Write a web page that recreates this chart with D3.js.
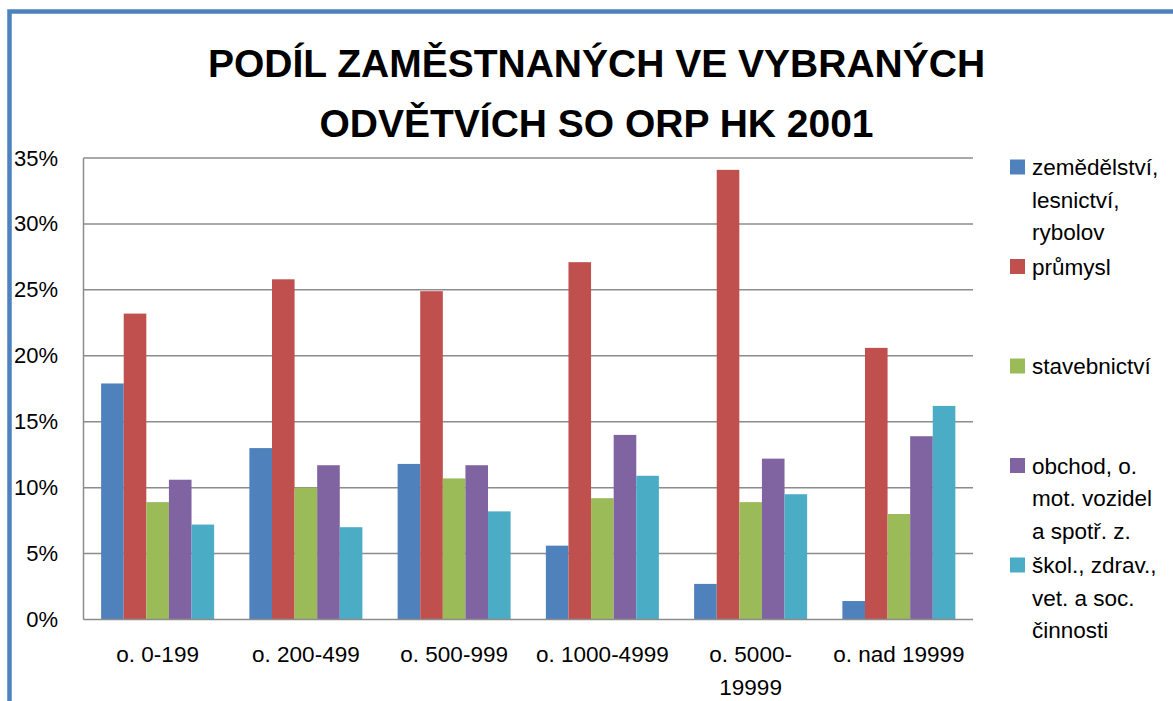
<!DOCTYPE html>
<html>
<head>
<meta charset="utf-8">
<script src="https://cdn.jsdelivr.net/npm/d3@7"></script>
<style>
  html, body { margin: 0; padding: 0; background: #fff; }
  svg { display: block; }
  text { font-family: "Liberation Sans", Arial, sans-serif; fill: #000; }
</style>
</head>
<body>
<svg id="chart" width="1173" height="701"></svg>
<script>
// ---- data ----
const titleLines = ["PODÍL ZAMĚSTNANÝCH VE VYBRANÝCH", "ODVĚTVÍCH SO ORP HK 2001"];
const categories = ["o. 0-199", "o. 200-499", "o. 500-999", "o. 1000-4999", "o. 5000-19999", "o. nad 19999"];
const categoryLabelLines = [["o. 0-199"], ["o. 200-499"], ["o. 500-999"], ["o. 1000-4999"], ["o. 5000-", "19999"], ["o. nad 19999"]];
const seriesNames = ["zemědělství, lesnictví, rybolov", "průmysl", "stavebnictví", "obchod, o. mot. vozidel a spotř. z.", "škol., zdrav., vet. a soc. činnosti"];
const legendLines = [["zemědělství,", "lesnictví,", "rybolov"], ["průmysl"], ["stavebnictví"], ["obchod, o.", "mot. vozidel", "a spotř. z."], ["škol., zdrav.,", "vet. a soc.", "činnosti"]];
const seriesColors = ["#4F81BD", "#C0504D", "#9BBB59", "#8064A2", "#4BACC6"];
const zemedelstvi = [0.179, 0.130, 0.118, 0.056, 0.027, 0.014];
const prumysl     = [0.232, 0.258, 0.249, 0.271, 0.341, 0.206];
const stavebnictvi= [0.089, 0.100, 0.107, 0.092, 0.089, 0.080];
const obchod      = [0.106, 0.117, 0.117, 0.140, 0.122, 0.139];
const skolstvi    = [0.072, 0.070, 0.082, 0.109, 0.095, 0.162];
const seriesValues = [zemedelstvi, prumysl, stavebnictvi, obchod, skolstvi];
const yTicks = [0, 0.05, 0.10, 0.15, 0.20, 0.25, 0.30, 0.35];

// ---- layout ----
const svg = d3.select("#chart");
const plot = { left: 83.5, right: 973, top: 158, bottom: 619.5 };

// outer border (blue, partially visible)
svg.append("path")
  .attr("d", "M9.5,701 V11.5 H1173")
  .attr("fill", "none").attr("stroke", "#4F81BD").attr("stroke-width", 4.5);

// title
svg.selectAll("text.title").data(titleLines).join("text")
  .attr("class", "title")
  .attr("x", 596.5)
  .attr("y", (d, i) => 77 + i * 60)
  .attr("text-anchor", "middle")
  .style("font-weight", "bold")
  .style("font-size", "39px")
  .text(d => d);

const y = d3.scaleLinear().domain([0, 0.35]).range([plot.bottom, plot.top]);
const x0 = d3.scaleBand().domain(categories).range([plot.left, plot.right])
  .paddingInner(0.2378).paddingOuter(0.1189);
const x1 = d3.scaleBand().domain(d3.range(seriesNames.length)).range([0, x0.bandwidth()]);

// gridlines
svg.append("g").selectAll("line").data(yTicks.filter(t => t > 0)).join("line")
  .attr("x1", plot.left).attr("x2", plot.right)
  .attr("y1", d => y(d)).attr("y2", d => y(d))
  .attr("stroke", "#8c8c8c").attr("stroke-width", 1.5);

// bars
const groups = svg.append("g").selectAll("g").data(categories).join("g")
  .attr("transform", c => `translate(${x0(c)},0)`);
groups.selectAll("rect")
  .data((c, ci) => seriesValues.map((vals, si) => ({ si, v: vals[ci] })))
  .join("rect")
  .attr("x", d => x1(d.si))
  .attr("width", x1.bandwidth())
  .attr("y", d => y(d.v))
  .attr("height", d => y(0) - y(d.v))
  .attr("fill", d => seriesColors[d.si]);

// axes lines
svg.append("line").attr("x1", plot.left).attr("x2", plot.left)
  .attr("y1", plot.top).attr("y2", plot.bottom)
  .attr("stroke", "#8c8c8c").attr("stroke-width", 1.5);
svg.append("line").attr("x1", plot.left).attr("x2", plot.right)
  .attr("y1", y(0)).attr("y2", y(0))
  .attr("stroke", "#8c8c8c").attr("stroke-width", 1.5);

// y axis labels
const yAxis = d3.axisLeft(y).tickValues(yTicks).tickFormat(d3.format(".0%")).tickSize(0).tickPadding(0);
const gy = svg.append("g").attr("transform", "translate(58,0)").call(yAxis);
gy.select(".domain").remove();
gy.selectAll("text").style("font-size", "22px").style("font-family", "Liberation Sans, Arial, sans-serif").attr("fill", "#000");

// x axis labels
const gx = svg.append("g");
categories.forEach((c, i) => {
  const t = gx.append("text")
    .attr("x", x0(c) + x0.bandwidth() / 2)
    .attr("y", 662)
    .attr("text-anchor", "middle")
    .style("font-size", "22.5px");
  categoryLabelLines[i].forEach((ln, j) => {
    t.append("tspan").attr("x", x0(c) + x0.bandwidth() / 2).attr("dy", j === 0 ? 0 : 32.5).text(ln);
  });
});

// legend
const lg = svg.append("g");
seriesNames.forEach((s, i) => {
  const base = 175 + i * 99.5;
  lg.append("rect").attr("x", 1010).attr("y", base - 15.5).attr("width", 15).attr("height", 15)
    .attr("fill", seriesColors[i]);
  const t = lg.append("text").attr("x", 1032).attr("y", base).style("font-size", "22.5px");
  legendLines[i].forEach((ln, j) => {
    t.append("tspan").attr("x", 1032).attr("dy", j === 0 ? 0 : 32.5).text(ln);
  });
});
</script>
</body>
</html>
